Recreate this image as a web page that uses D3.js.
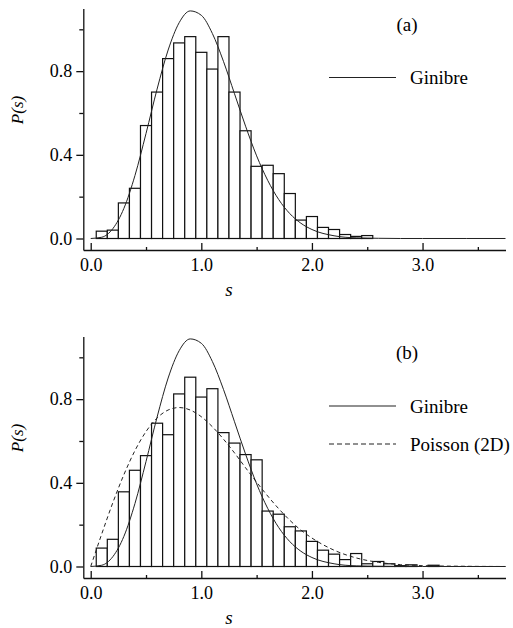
<!DOCTYPE html>
<html>
<head>
<meta charset="utf-8">
<script src="https://cdn.jsdelivr.net/npm/d3@7"></script>
<style>
  body { margin: 0; background: white; }
  .tick line, .domain { stroke: #111; stroke-width: 1.3; }
</style>
</head>
<body>
<div id="chart"></div>
<script>
// histogram bins: centre of each bin, width 0.1
var binWidth = 0.1;
var binsA = [0.1, 0.2, 0.3, 0.4, 0.5, 0.6, 0.7, 0.8, 0.9, 1.0, 1.1, 1.2, 1.3,
    1.4, 1.5, 1.6, 1.7, 1.8, 1.9, 2.0, 2.1, 2.2, 2.3, 2.4, 2.5];
var histA = [0.035, 0.04, 0.17, 0.24, 0.54, 0.70, 0.86, 0.935, 0.965, 0.89, 0.81,
    0.965, 0.70, 0.515, 0.345, 0.35, 0.31, 0.215, 0.088, 0.105, 0.053, 0.043,
    0.019, 0.01, 0.014];

var binsB = [0.1, 0.2, 0.3, 0.4, 0.5, 0.6, 0.7, 0.8, 0.9, 1.0, 1.1, 1.2, 1.3,
    1.4, 1.5, 1.6, 1.7, 1.8, 1.9, 2.0, 2.1, 2.2, 2.3, 2.4, 2.5, 2.6, 2.7, 2.8,
    2.9, 3.0, 3.1];
var histB = [0.088, 0.13, 0.357, 0.46, 0.53, 0.685, 0.63, 0.825, 0.905, 0.81,
    0.85, 0.64, 0.59, 0.535, 0.51, 0.265, 0.25, 0.19, 0.17, 0.12, 0.078, 0.059,
    0.033, 0.062, 0.013, 0.024, 0.013, 0.004, 0.008, 0, 0.006];

// curves
var curveS = [0, 0.1, 0.2, 0.3, 0.4, 0.5, 0.6, 0.7, 0.8, 0.9, 1.0, 1.1, 1.2, 1.3,
    1.4, 1.5, 1.6, 1.7, 1.8, 1.9, 2.0, 2.2, 2.4, 2.6, 2.8, 3.0, 3.4, 3.75];
var ginibre = [0, 0.006, 0.047, 0.144, 0.301, 0.502, 0.714, 0.901, 1.032, 1.088,
    1.067, 0.980, 0.847, 0.692, 0.537, 0.395, 0.278, 0.186, 0.119, 0.073, 0.043,
    0.013, 0.003, 0.001, 0, 0, 0, 0];
var poisson = [0, 0.156, 0.305, 0.439, 0.554, 0.645, 0.710, 0.748, 0.760, 0.748,
    0.716, 0.668, 0.609, 0.543, 0.472, 0.403, 0.337, 0.276, 0.221, 0.174, 0.136,
    0.078, 0.041, 0.020, 0.009, 0.004, 0.001, 0];

var xMajor = [0, 1, 2, 3];
var xMinor = [0.5, 1.5, 2.5, 3.5];
var yMajor = [0, 0.4, 0.8];
var yMinor = [0.2, 0.6, 1.0];

// pick the first serif face that is actually installed
function pickFont(list) {
    var ctx = document.createElement("canvas").getContext("2d");
    var probe = "Ginibre Poisson 0.8 (a)";
    for (var i = 0; i < list.length; i++) {
        ctx.font = "20px monospace";
        var w0 = ctx.measureText(probe).width;
        ctx.font = "20px '" + list[i] + "', monospace";
        if (ctx.measureText(probe).width !== w0) return "'" + list[i] + "'";
    }
    return "serif";
}
var serif = pickFont(["Liberation Serif", "Times New Roman", "Tinos", "Nimbus Roman",
    "DejaVu Serif", "Noto Serif"]) + ", serif";

var svg = d3.select("#chart").append("svg")
    .attr("width", 513)
    .attr("height", 628)
    .style("display", "block");

var x = d3.scaleLinear().domain([-0.067, 3.75]).range([83.3, 505.5]);
var y = d3.scaleLinear().domain([-0.055, 1.1]).range([250, 8.4]);

function drawPanel(top, bins, hist, curves, tag, legend) {
    var g = svg.append("g").attr("transform", "translate(0," + top + ")");

    // bars
    g.selectAll("rect.bar")
        .data(bins)
        .enter()
        .append("rect")
        .attr("class", "bar")
        .attr("x", function(d) { return x(d - binWidth / 2); })
        .attr("width", x(binWidth) - x(0))
        .attr("y", function(d, i) { return y(hist[i]); })
        .attr("height", function(d, i) { return y(0) - y(hist[i]); })
        .style("fill", "white")
        .style("stroke", "#111")
        .style("stroke-width", 1.2);

    // curves
    curves.forEach(function(c) {
        var line = d3.line()
            .x(function(d, i) { return x(curveS[i]); })
            .y(function(d) { return y(d); })
            .curve(d3.curveMonotoneX);
        g.append("path")
            .datum(c.values)
            .attr("d", line)
            .style("fill", "none")
            .style("stroke", "#222")
            .style("stroke-width", 1)
            .style("stroke-dasharray", c.dash ? "4,3" : null);
    });

    // axes
    g.append("g")
        .attr("transform", "translate(0," + y.range()[0] + ")")
        .call(d3.axisBottom(x).tickValues(xMajor).tickSize(-7).tickSizeOuter(0)
            .tickPadding(8).tickFormat(d3.format(".1f")));
    g.append("g")
        .attr("transform", "translate(0," + y.range()[0] + ")")
        .call(d3.axisBottom(x).tickValues(xMinor).tickSize(-3).tickFormat(""))
        .call(function(a) { a.select(".domain").remove(); });

    g.append("g")
        .attr("transform", "translate(" + x.range()[0] + ",0)")
        .call(d3.axisLeft(y).tickValues(yMajor).tickSize(7).tickSizeOuter(0)
            .tickPadding(4).tickFormat(d3.format(".1f")));
    g.append("g")
        .attr("transform", "translate(" + x.range()[0] + ",0)")
        .call(d3.axisLeft(y).tickValues(yMinor).tickSize(4).tickFormat(""))
        .call(function(a) { a.select(".domain").remove(); });

    g.selectAll(".tick text")
        .style("font-family", serif)
        .style("font-size", "18px")
        .style("fill", "black");

    // axis titles
    g.append("text")
        .attr("transform", "translate(23,110) rotate(-90)")
        .attr("text-anchor", "middle")
        .style("font-family", serif)
        .style("font-size", "17px")
        .style("font-style", "italic")
        .text("P(s)");
    g.append("text")
        .attr("x", 229)
        .attr("y", 296)
        .attr("text-anchor", "middle")
        .style("font-family", serif)
        .style("font-size", "19px")
        .style("font-style", "italic")
        .text("s");

    // panel tag
    g.append("text")
        .attr("x", 407)
        .attr("y", 31)
        .attr("text-anchor", "middle")
        .style("font-family", serif)
        .style("font-size", "19px")
        .text(tag);

    // legend
    legend.forEach(function(l) {
        g.append("line")
            .attr("x1", 329).attr("x2", 396)
            .attr("y1", l.y).attr("y2", l.y)
            .style("stroke", "#222")
            .style("stroke-width", 1.2)
            .style("stroke-dasharray", l.dash ? "5,3" : null);
        g.append("text")
            .attr("x", 410)
            .attr("y", l.y + 6.5)
            .style("font-family", serif)
            .style("font-size", "19px")
            .text(l.name);
    });
}

drawPanel(0, binsA, histA,
    [{values: ginibre, dash: false}],
    "(a)",
    [{name: "Ginibre", y: 77.5, dash: false}]);

drawPanel(328, binsB, histB,
    [{values: ginibre, dash: false}, {values: poisson, dash: true}],
    "(b)",
    [{name: "Ginibre", y: 78, dash: false},
     {name: "Poisson (2D)", y: 116, dash: true}]);
</script>
</body>
</html>
